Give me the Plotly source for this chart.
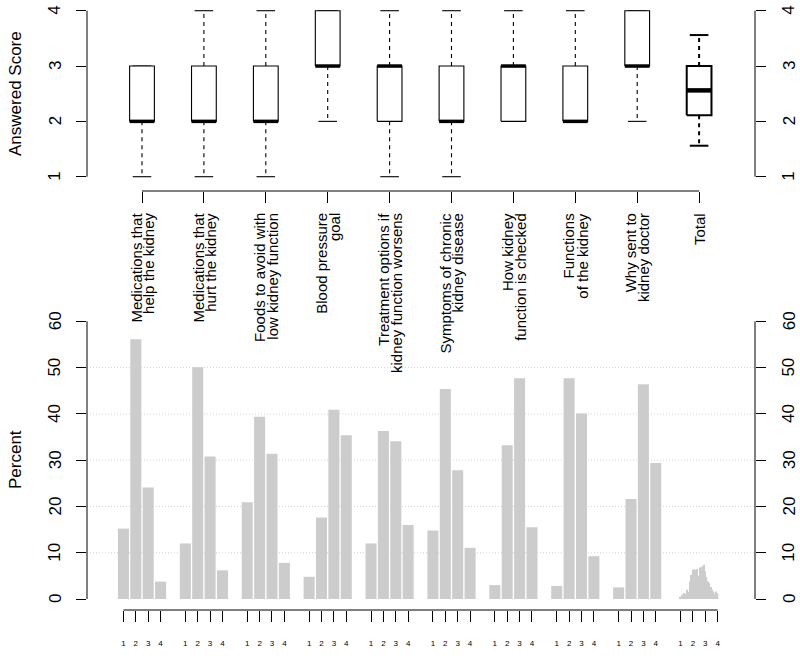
import plotly.graph_objects as go

W, H = 800, 660
FONT = "Liberation Sans, Arial, Helvetica, sans-serif"

# ---------------- data ----------------
categories = [
    "Medications that\nhelp the kidney",
    "Medications that\nhurt the kidney",
    "Foods to avoid with\nlow kidney function",
    "Blood pressure\ngoal",
    "Treatment options if\nkidney function worsens",
    "Symptoms of chronic\nkidney disease",
    "How kidney\nfunction is checked",
    "Functions\nof the kidney",
    "Why sent to\nkidney doctor",
    "Total",
]

whisker_low = [1, 1, 1, 2, 1, 1, 2, 2, 2, 1.56]
q1 = [2, 2, 2, 3, 2, 2, 2, 2, 3, 2.11]
median = [2, 2, 2, 3, 3, 2, 3, 2, 3, 2.56]
q3 = [3, 3, 3, 4, 3, 3, 3, 3, 4, 3.0]
whisker_high = [3, 4, 4, 4, 4, 4, 4, 4, 4, 3.56]

score_levels = ["1", "2", "3", "4"]
pct_score1 = [15.2, 12.0, 20.9, 4.8, 12.0, 14.8, 3.0, 2.8, 2.5]
pct_score2 = [56.1, 50.1, 39.4, 17.6, 36.3, 45.4, 33.2, 47.7, 21.6]
pct_score3 = [24.1, 30.8, 31.4, 40.9, 34.1, 27.8, 47.7, 40.1, 46.4]
pct_score4 = [3.75, 6.2, 7.8, 35.4, 16.0, 11.05, 15.5, 9.25, 29.4]

total_score_bins = [1.00, 1.11, 1.22, 1.33, 1.44, 1.56, 1.67, 1.78, 1.89, 2.00,
                    2.11, 2.22, 2.33, 2.44, 2.56, 2.67, 2.78, 2.89, 3.00, 3.11,
                    3.22, 3.33, 3.44, 3.56, 3.67, 3.78, 3.89, 4.00]
total_pct = [0.5, 0.8, 1.0, 1.3, 1.0, 2.0, 1.5, 3.8, 5.2, 6.3,
             6.4, 6.3, 6.5, 5.0, 6.8, 6.6, 7.0, 7.4, 6.0, 4.7,
             3.8, 3.4, 2.6, 2.0, 1.6, 1.0, 1.6, 1.2]

score_ticks = [1, 2, 3, 4]
pct_ticks = [0, 10, 20, 30, 40, 50, 60]
grid_vals = [10, 20, 30, 40, 50]

# ---------------- geometry helpers ----------------
def px(x):
    return x / W

def py(y):
    return 1 - y / H

GROUP_PX = 61.9
X0_PX = 142.0
AX_L, AX_R = 87.0, 755.0
xr = [1 + (AX_L - X0_PX) / GROUP_PX, 1 + (AX_R - X0_PX) / GROUP_PX]

# top panel: value 1 at 176.7 px, 55.33 px per unit; domain 0..191 px
T_ONE, T_UNIT, T_BOT = 176.7, 55.33, 191.0
yr_top = [1 - (T_BOT - T_ONE) / T_UNIT, 1 + T_ONE / T_UNIT]
# bottom panel: 0 at 599 px, 4.628 px per unit; domain 300..610 px
B_ZERO, B_UNIT, B_TOP, B_BOT = 599.0, 4.628, 300.0, 610.0
yr_bot = [-(B_BOT - B_ZERO) / B_UNIT, (B_ZERO - B_TOP) / B_UNIT]

SLOT = 0.2          # bar slot within a group (x units)
BAR_W = 0.178
BOX_HW = 0.2
CAP_HW = 0.15

fig = go.Figure()

# ---------------- box plots ----------------
def add_boxes(idx, lw_box, lw_med, lw_wh):
    bx, by, wx, wy, cx, cy, mx, my = [], [], [], [], [], [], [], []
    for i in idx:
        c = i + 1
        bx += [c - BOX_HW, c + BOX_HW, c + BOX_HW, c - BOX_HW, c - BOX_HW, None]
        by += [q1[i], q1[i], q3[i], q3[i], q1[i], None]
        wx += [c, c, None, c, c, None]
        wy += [q1[i], whisker_low[i], None, q3[i], whisker_high[i], None]
        cx += [c - CAP_HW, c + CAP_HW, None, c - CAP_HW, c + CAP_HW, None]
        cy += [whisker_low[i], whisker_low[i], None, whisker_high[i], whisker_high[i], None]
        mx += [c - BOX_HW, c + BOX_HW, None]
        my += [median[i], median[i], None]
    common = dict(mode="lines", xaxis="x", yaxis="y", hoverinfo="skip", showlegend=False)
    fig.add_trace(go.Scatter(x=wx, y=wy, line=dict(color="black", width=lw_wh, dash="4px,4px"), **common))
    fig.add_trace(go.Scatter(x=cx, y=cy, line=dict(color="black", width=lw_wh), **common))
    fig.add_trace(go.Scatter(x=bx, y=by, fill="toself", fillcolor="white",
                             line=dict(color="black", width=lw_box), **common))
    fig.add_trace(go.Scatter(x=mx, y=my, line=dict(color="black", width=lw_med), **common))

add_boxes(range(9), 1.1, 3.5, 1.1)
add_boxes([9], 2.0, 4.5, 2.0)

# dummy traces for right-hand axes
fig.add_trace(go.Scatter(x=[1], y=[1], xaxis="x", yaxis="y2", mode="markers",
                         marker=dict(opacity=0), hoverinfo="skip", showlegend=False))
fig.add_trace(go.Scatter(x=[1], y=[0], xaxis="x2", yaxis="y4", mode="markers",
                         marker=dict(opacity=0), hoverinfo="skip", showlegend=False))

# ---------------- bar charts ----------------
series = [pct_score1, pct_score2, pct_score3, pct_score4]
bar_tickvals, bar_ticktext = [], []
for g in range(10):
    for k in range(4):
        bar_tickvals.append(g + 1 + (k - 1.5) * SLOT)
        bar_ticktext.append(score_levels[k])

for k, vals in enumerate(series):
    fig.add_trace(go.Bar(
        x=[g + 1 + (k - 1.5) * SLOT for g in range(len(vals))], y=vals,
        width=BAR_W, marker=dict(color="#cccccc", line=dict(width=0)),
        xaxis="x2", yaxis="y3", hoverinfo="skip", showlegend=False))

fig.add_trace(go.Bar(
    x=[10 + (s - 2.5) * SLOT for s in total_score_bins], y=total_pct,
    width=SLOT / 9, marker=dict(color="#cccccc", line=dict(width=0)),
    xaxis="x2", yaxis="y3", hoverinfo="skip", showlegend=False))

# ---------------- axes ----------------
dom_x = [px(AX_L), px(AX_R)]
yaxis_common = dict(showgrid=False, zeroline=False, showline=False, ticks="outside",
                    ticklen=10, tickwidth=1, tickcolor="black", showticklabels=False)

fig.update_layout(
    width=W, height=H, margin=dict(l=0, r=0, t=0, b=0),
    paper_bgcolor="white", plot_bgcolor="white", barmode="overlay",
    font=dict(family=FONT, color="black"),
    xaxis=dict(domain=dom_x, range=xr, anchor="y", showgrid=False, zeroline=False,
               showline=False, ticks="outside", ticklen=11, tickwidth=1, tickcolor="black",
               tickvals=list(range(1, 11)), showticklabels=False),
    yaxis=dict(domain=[py(T_BOT), 1], range=yr_top, anchor="x", tickvals=score_ticks,
               **yaxis_common),
    yaxis2=dict(domain=[py(T_BOT), 1], range=yr_top, anchor="x", overlaying="y", side="right",
                tickvals=score_ticks, **yaxis_common),
    xaxis2=dict(domain=dom_x, range=xr, anchor="y3", showgrid=False, zeroline=False,
                showline=False, ticks="outside", ticklen=11, tickwidth=1, tickcolor="black",
                tickvals=bar_tickvals, ticktext=bar_ticktext, ticklabelstandoff=14,
                tickfont=dict(family=FONT, size=8, color="black")),
    yaxis3=dict(domain=[py(B_BOT), py(B_TOP)], range=yr_bot, anchor="x2", tickvals=pct_ticks,
                **yaxis_common),
    yaxis4=dict(domain=[py(B_BOT), py(B_TOP)], range=yr_bot, anchor="x2", overlaying="y3",
                side="right", tickvals=pct_ticks, **yaxis_common),
)

# ---------------- axis lines & grid ----------------
shapes = []
line = dict(color="black", width=1)
for xp in (AX_L, AX_R):
    shapes.append(dict(type="line", xref="paper", yref="y", x0=px(xp), x1=px(xp),
                       y0=score_ticks[0], y1=score_ticks[-1], line=line))
    shapes.append(dict(type="line", xref="paper", yref="y3", x0=px(xp), x1=px(xp),
                       y0=pct_ticks[0], y1=pct_ticks[-1], line=line))
shapes.append(dict(type="line", xref="x", yref="paper", x0=1, x1=10,
                   y0=py(T_BOT), y1=py(T_BOT), line=line))
shapes.append(dict(type="line", xref="x2", yref="paper", x0=bar_tickvals[0], x1=bar_tickvals[-1],
                   y0=py(B_BOT), y1=py(B_BOT), line=line))
for gv in grid_vals:
    shapes.append(dict(type="line", xref="paper", yref="y3", x0=px(AX_L), x1=px(AX_R),
                       y0=gv, y1=gv, layer="below",
                       line=dict(color="#d3d3d3", width=1, dash="1px,2px")))
fig.update_layout(shapes=shapes)

# ---------------- text ----------------
ann = []
tf = dict(family=FONT, size=17, color="black")
ann.append(dict(text="Answered Score", x=px(15), y=py(94), xref="paper", yref="paper",
                textangle=-90, showarrow=False, xanchor="center", yanchor="middle", font=tf))
ann.append(dict(text="Percent", x=px(15), y=py(460), xref="paper", yref="paper",
                textangle=-90, showarrow=False, xanchor="center", yanchor="middle", font=tf))
# rotated y tick labels (R las=0 style)
for yref, vals in (("y", score_ticks), ("y3", pct_ticks)):
    for v in vals:
        for xc in (55, 789):
            ann.append(dict(text=str(v), x=px(xc), y=v, xref="paper", yref=yref,
                            textangle=-90, showarrow=False, xanchor="center",
                            yanchor="middle", font=tf))
PITCH = 12.8
for i, lab in enumerate(categories):
    lines = lab.split("\n")
    n = len(lines)
    for j, t in enumerate(lines):
        off = (j - (n - 1) / 2) * PITCH
        ann.append(dict(text=t, x=i + 1, xref="x", y=py(211), yref="paper",
                        xshift=off, textangle=-90, showarrow=False,
                        xanchor="center", yanchor="top",
                        font=dict(family=FONT, size=15, color="black")))
fig.update_layout(annotations=ann)

fig.write_html("out.html", config={"displayModeBar": False},
               post_script="document.body.style.margin='0';")
